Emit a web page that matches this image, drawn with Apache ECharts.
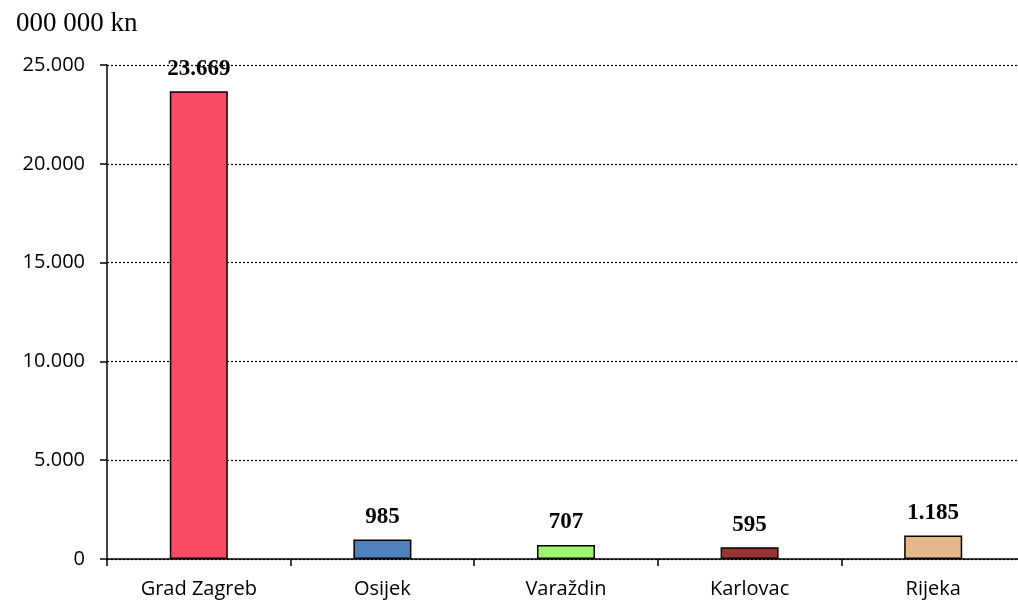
<!DOCTYPE html>
<html>
<head>
<meta charset="utf-8">
<script src="https://cdn.jsdelivr.net/npm/echarts@6/dist/echarts.min.js"></script>
<style>html,body{margin:0;padding:0;background:#fff;overflow:hidden;width:1018px;height:602px;}#c{width:1025px;height:602px;}</style>
</head>
<body>
<div id="c"></div>
<script>
var categories = ['Grad Zagreb', 'Osijek', 'Varaždin', 'Karlovac', 'Rijeka'];
var values = [23669, 985, 707, 595, 1185];
var colors = ['#F94C64', '#4F81BD', '#9CF870', '#993535', '#E5B88B'];
var yTicks = [0, 5000, 10000, 15000, 20000, 25000];
var unitLabel = '000 000 kn';

function fmt(v) {
  return String(v).replace(/\B(?=(\d{3})+(?!\d))/g, '.');
}

var chart = echarts.init(document.getElementById('c'));
chart.setOption({
  animation: false,
  backgroundColor: '#fff',
  title: {
    text: unitLabel,
    left: 11, top: 5,
    textStyle: { fontFamily: 'Liberation Serif', fontSize: 27, fontWeight: 'normal', color: '#000' }
  },
  grid: { left: 107, right: 0, top: 65, bottom: 43 },
  xAxis: {
    type: 'category',
    data: categories,
    axisLine: { lineStyle: { color: '#000', width: 1.5 } },
    axisTick: { show: true, length: 7, lineStyle: { color: '#000', width: 1.5 } },
    axisLabel: { fontFamily: 'Open Sans', fontSize: 20, color: '#000', margin: 20 }
  },
  yAxis: {
    type: 'value',
    min: yTicks[0], max: yTicks[yTicks.length - 1], interval: 5000,
    axisLine: { show: true, lineStyle: { color: '#000', width: 1.5 } },
    axisTick: { show: true, length: 7, lineStyle: { color: '#000', width: 1.5 } },
    splitLine: { show: true, lineStyle: { type: [2, 2], color: '#000', width: 1.2 } },
    axisLabel: { fontFamily: 'Open Sans', fontSize: 20, color: '#000', margin: 22, formatter: function (v) { return fmt(v); } }
  },
  series: [{
    type: 'bar',
    barWidth: 58,
    data: values.map(function (v, i) {
      return { value: v, itemStyle: { color: colors[i], borderColor: '#000', borderWidth: 1.5 } };
    }),
    label: {
      show: true, position: 'top', distance: 11,
      fontFamily: 'Liberation Serif', fontWeight: 'bold', fontSize: 23, color: '#000',
      formatter: function (p) { return fmt(p.value); }
    }
  }]
});
</script>
</body>
</html>
